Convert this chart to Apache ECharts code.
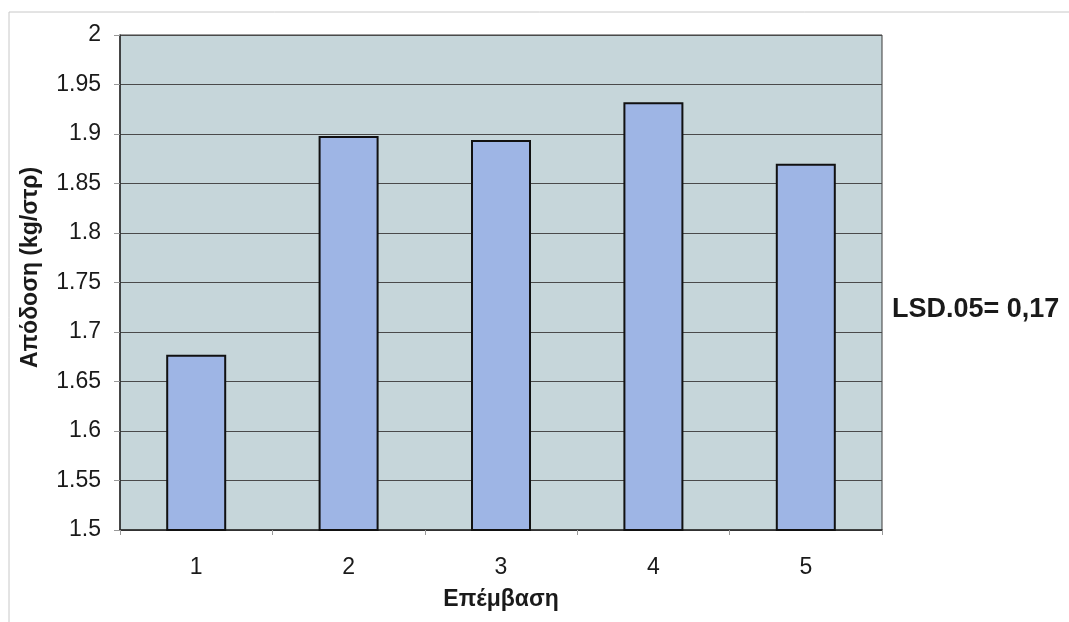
<!DOCTYPE html>
<html>
<head>
<meta charset="utf-8">
<script src="https://cdn.jsdelivr.net/npm/echarts@6/dist/echarts.min.js"></script>
<style>
  html, body { margin: 0; padding: 0; background: #ffffff; }
  #chart { width: 1069px; height: 622px; }
</style>
</head>
<body>
<div id="chart"></div>
<script>
// Yield per treatment
const categories = ['1', '2', '3', '4', '5'];
const yieldValues = [1.677, 1.898, 1.894, 1.932, 1.870];
const yTicks = { min: 1.5, max: 2, interval: 0.05 };
const xAxisTitle = 'Επέμβαση';
const yAxisTitle = 'Απόδοση (kg/στρ)';
const noteText = 'LSD.05= 0,17';

const FONT = '"Liberation Sans", Arial, sans-serif';
const chart = echarts.init(document.getElementById('chart'), null, { renderer: 'canvas' });

chart.setOption({
  animation: false,
  backgroundColor: '#ffffff',
  grid: {
    left: 120, top: 35, right: 187, bottom: 92,
    show: true,
    backgroundColor: '#c6d6da',
    borderColor: '#3a3a3a',
    borderWidth: 1
  },
  graphic: [
    {
      type: 'rect',
      shape: { x: 9, y: 12, width: 1080, height: 640 },
      style: { fill: 'none', stroke: '#c8c8c8', lineWidth: 1 },
      silent: true
    },
    {
      type: 'text',
      left: 892, top: 296,
      style: {
        text: noteText,
        font: 'bold 27px ' + FONT,
        fill: '#1a1a1a'
      }
    }
  ],
  xAxis: {
    type: 'category',
    data: categories,
    boundaryGap: true,
    name: xAxisTitle,
    nameLocation: 'middle',
    nameGap: 58,
    nameTextStyle: { fontFamily: FONT, fontWeight: 'bold', fontSize: 23, color: '#1a1a1a' },
    axisLine: { show: true, lineStyle: { color: '#2a2a2a', width: 1.5 } },
    axisTick: { show: true, length: 5, lineStyle: { color: '#999999' } },
    axisLabel: { margin: 26, fontFamily: FONT, fontSize: 23, color: '#1a1a1a' }
  },
  yAxis: {
    type: 'value',
    min: yTicks.min, max: yTicks.max, interval: yTicks.interval,
    name: yAxisTitle,
    nameLocation: 'middle',
    nameGap: 78,
    nameTextStyle: {
      fontFamily: FONT, fontWeight: 'bold', fontSize: 23, color: '#1a1a1a',
      padding: [0, 0, 0, 30]
    },
    axisLine: { show: true, lineStyle: { color: '#2a2a2a', width: 1.5 } },
    axisTick: { show: true, length: 6, lineStyle: { color: '#999999' } },
    axisLabel: {
      margin: 19,
      fontFamily: FONT, fontSize: 23, color: '#1a1a1a',
      formatter: v => String(Math.round(v * 100) / 100)
    },
    splitLine: { show: true, lineStyle: { color: '#4a4a4a', width: 1 } }
  },
  series: [{
    type: 'bar',
    data: yieldValues,
    barWidth: 60,
    itemStyle: { color: '#9eb5e5', borderColor: '#111111', borderWidth: 2 }
  }]
});
</script>
</body>
</html>
